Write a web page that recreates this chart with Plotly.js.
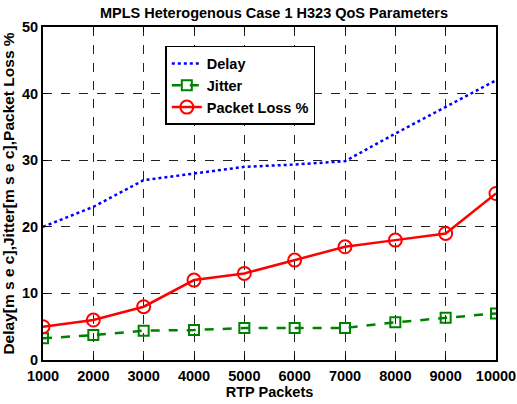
<!DOCTYPE html>
<html><head><meta charset="utf-8">
<script src="https://cdn.plot.ly/plotly-3.0.1.min.js"></script>
<style>body{margin:0;background:#fff}</style>
</head><body>
<div id="chart" style="width:517px;height:404px"></div>
<script>
const packets = [1000, 2000, 3000, 4000, 5000, 6000, 7000, 8000, 9000, 10000];
const delay = [20, 23, 27, 28, 29, 29.35, 29.85, 34, 38, 42];
const jitter = [3.25, 3.75, 4.4, 4.5, 4.8, 4.8, 4.8, 5.65, 6.35, 7.0];
const packetLoss = [5, 6, 8, 12, 13, 15, 17, 18, 19, 25];
const xTicks = [1000, 2000, 3000, 4000, 5000, 6000, 7000, 8000, 9000, 10000];
const yTicks = [0, 10, 20, 30, 40, 50];

const F = 'Liberation Sans, Arial, sans-serif';
const traces = [
  {x: packets, y: delay, name: 'Delay', mode: 'lines',
   line: {color: '#0000ff', width: 2.5, dash: 'dot'}},
  {x: packets, y: jitter, name: 'Jitter', mode: 'lines+markers',
   line: {color: '#008000', width: 2.5, dash: 'dash'},
   marker: {symbol: 'square-open', size: 10, color: '#008000', line: {width: 2}}},
  {x: packets, y: packetLoss, name: 'Packet Loss %', mode: 'lines+markers',
   line: {color: '#ff0000', width: 2.5},
   marker: {symbol: 'circle-open', size: 13, color: '#ff0000', line: {width: 2}}}
];
const axisCommon = {
  showline: true, linecolor: '#000', linewidth: 2, mirror: 'ticks',
  ticks: 'inside', ticklen: 5, tickcolor: '#000', tickwidth: 1,
  showgrid: true, gridcolor: '#222', griddash: 'dash', gridwidth: 1,
  zeroline: false,
  tickfont: {family: F, size: 14.5, color: '#000', weight: 'bold'}
};
const layout = {
  width: 517, height: 404,
  margin: {l: 43, r: 21, t: 27, b: 44},
  paper_bgcolor: '#fff', plot_bgcolor: '#fff',
  title: {text: 'MPLS Heterogenous Case 1 H323 QoS Parameters',
          font: {family: F, size: 14.5, color: '#000', weight: 'bold'},
          x: 0.53, xanchor: 'center', y: 0.967, yanchor: 'middle'},
  xaxis: Object.assign({}, axisCommon, {
    range: [1000, 10000], tickvals: xTicks, ticktext: xTicks.map(String),
    ticklabelstandoff: 2,
    title: {text: 'RTP Packets', standoff: 1,
            font: {family: F, size: 14.5, color: '#000', weight: 'bold'}}
  }),
  yaxis: Object.assign({}, axisCommon, {
    range: [0, 50], tickvals: yTicks,
    title: {text: 'Delay[m s e c],Jitter[m s e c],Packet Loss %', standoff: 4,
            font: {family: F, size: 15.5, color: '#000', weight: 'bold'}}
  }),
  showlegend: true,
  legend: {x: 0.27, y: 0.943, xanchor: 'left', yanchor: 'top',
           bgcolor: '#fff', bordercolor: '#000', borderwidth: 1.5,
           font: {family: F, size: 14.5, color: '#000', weight: 'bold'},
           tracegroupgap: 0, itemwidth: 30}
};
Plotly.newPlot('chart', traces, layout, {staticPlot: true, displayModeBar: false});
</script>
</body></html>
